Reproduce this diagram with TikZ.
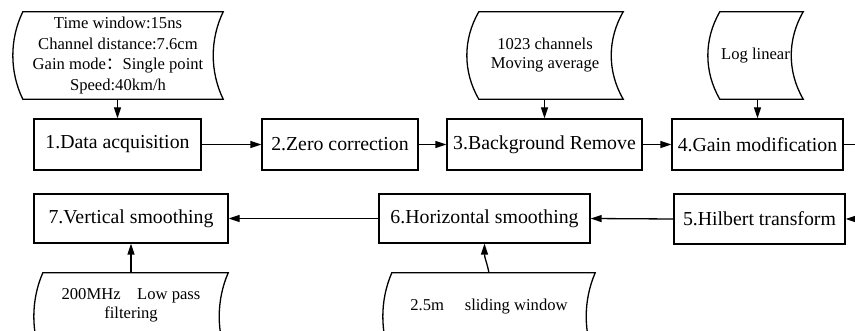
\documentclass[tikz,border=0pt]{standalone}
\usepackage{fontspec}
\setmainfont{Liberation Serif}
\newfontfamily\cjk{Noto Sans CJK SC}
\usetikzlibrary{arrows.meta,calc}
\newcommand\storedshape[2]{%
  \draw[boxline] let \p1=(#1.north west), \p2=(#1.south east), \n2={(\y1-\y2)*0.315} in
    (\x1+#2,\y1) -- (\x2,\y1)
    .. controls (\x2-1.33*#2,\y1-\n2) and (\x2-1.33*#2,\y2+\n2) .. (\x2,\y2)
    -- (\x1+#2,\y2)
    .. controls (\x1+#2-1.33*#2,\y2+\n2) and (\x1+#2-1.33*#2,\y1-\n2) .. (\x1+#2,\y1) -- cycle;}
\begin{document}
\begin{tikzpicture}[x=1pt,y=-1pt,
  boxline/.style={line width=1.3pt},
  procbox/.style={draw, boxline, minimum height=51pt, inner sep=0pt, font=\fontsize{19.8}{24}\selectfont},
  datatext/.style={align=center, inner sep=0pt, font=\fontsize{16.6}{20.5}\selectfont},
  stored/.style={minimum height=87pt, inner sep=0pt, align=center},
  flow/.style={boxline, -{Triangle[length=11pt,width=7pt]}}]
\useasboundingbox (0,0) rectangle (855,331);
\clip (0,0) rectangle (855,331);
% process boxes
\node[procbox, minimum width=167pt] (b1) at (117.5,144.5) {1.Data acquisition};
\node[procbox, minimum width=156pt] (b2) at (340,144.5) {2.Zero correction};
\node[procbox, minimum width=195pt] (b3) at (544.5,144.5) {3.Background Remove};
\node[procbox, minimum width=171pt] (b4) at (757.5,144.5) {4.Gain modification};
\node[procbox, minimum width=171pt, minimum height=50pt] (b5) at (759.5,219) {5.Hilbert transform};
\node[procbox, minimum width=211pt, minimum height=49pt] (b6) at (484.5,218.5) {6.Horizontal smoothing};
\node[procbox, minimum width=194pt, minimum height=49pt] (b7) at (131,218.5) {7.Vertical smoothing};
% stored-data shapes
\node[stored, datatext, minimum width=210pt] (d1) at (118,55.5)
  {Time window:15ns\\Channel distance:7.6cm\\Gain mode{\cjk ：}Single point\\Speed:40km/h};
\node[stored, datatext, minimum width=156pt, font=\fontsize{16.6}{19}\selectfont] (d2) at (545,55.5)
  {1023 channels\\Moving average};
\node[stored, datatext, minimum width=95pt] (d3) at (755.5,55.5) {Log linear};
\node[stored, minimum width=194pt] (d4) at (131,316.5) {};
\node[datatext, font=\fontsize{16.6}{19}\selectfont] (d4t) at (131,305)
  {200MHz\hspace{1em}Low pass\\filtering};
\node[stored, minimum width=212pt] (d5) at (489,316.5) {};
\node[datatext] (d5t) at (489,307) {2.5m\hspace{1.25em}sliding window};
\storedshape{d1}{10pt}
\storedshape{d2}{12pt}
\storedshape{d3}{12pt}
\storedshape{d4}{9pt}
\storedshape{d5}{9pt}
% connectors
\draw[flow] (b1.east) -- (b2.west);
\draw[flow] (b2.east) -- (b3.west);
\draw[flow] (b3.east) -- (b4.west);
\coordinate (turn) at (872,180);
\draw[flow] (b4.east) -| (turn) |- (b5.east);
\draw[flow] (b5.west) -- (b6.east);
\draw[flow] (b6.west) -- (b7.east);
\draw[flow] (b1.north |- d1.south) -- (b1.north);
\draw[flow] (b3.north |- d2.south) -- (b3.north);
\draw[flow] (b4.north |- d3.south) -- (b4.north);
\draw[flow] (d4.north -| b7.south) -- (b7.south);
\draw[flow] (d5.north) .. controls ($(d5.north)+(-2,-10)$) and ($(b6.south)+(0,14)$) .. (b6.south);
\end{tikzpicture}
\end{document}
